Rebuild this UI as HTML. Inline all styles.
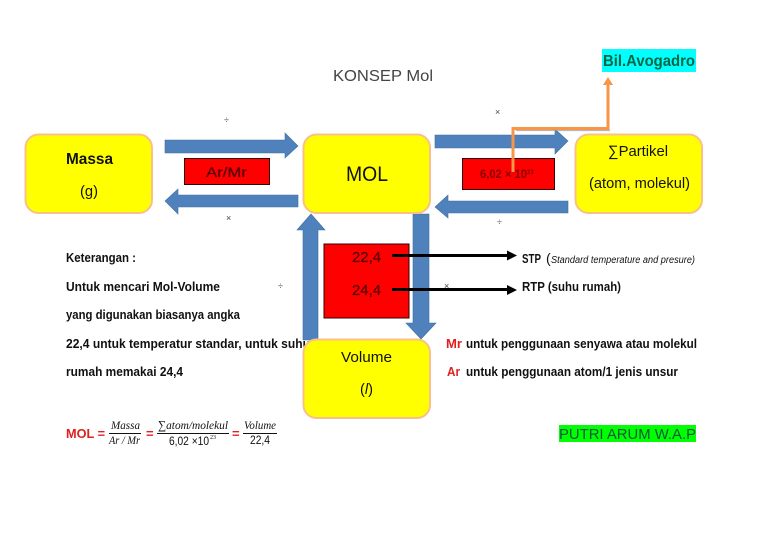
<!DOCTYPE html>
<html><head><meta charset="utf-8"><style>
html,body{margin:0;padding:0;background:#fff}
svg{display:block;filter:blur(.3px)}
text{font-family:"Liberation Sans",sans-serif;fill:#111}
.b{font-weight:bold;font-size:13px}
.s{font-size:9px;fill:#444}
.f{font-family:"Liberation Serif",serif;font-style:italic;font-size:12px}
.n{font-family:"Liberation Sans",sans-serif;font-style:normal;font-size:12px}
.r{fill:#500;stroke:#500;stroke-width:.25px}
</style></head><body>
<svg width="768" height="543" viewBox="0 0 768 543" xmlns="http://www.w3.org/2000/svg">
<rect width="768" height="543" fill="#fff"/>
<text x="333" y="81" font-size="16" textLength="100" lengthAdjust="spacingAndGlyphs" style="fill:#444">KONSEP Mol</text>

<rect x="602" y="49" width="94" height="23" fill="#00ffff"/>
<text x="603" y="66" font-size="16" font-weight="bold" textLength="92" lengthAdjust="spacingAndGlyphs" style="fill:#064">Bil.Avogadro</text>

<text x="66" y="262" class="b" textLength="70" lengthAdjust="spacingAndGlyphs">Keterangan :</text>
<text x="66" y="291" class="b" textLength="154" lengthAdjust="spacingAndGlyphs">Untuk mencari Mol-Volume</text>
<text x="66" y="319" class="b" textLength="174" lengthAdjust="spacingAndGlyphs">yang digunakan biasanya angka</text>
<text x="66" y="348" class="b" textLength="244" lengthAdjust="spacingAndGlyphs">22,4 untuk temperatur standar, untuk suhu</text>
<text x="66" y="376" class="b" textLength="117" lengthAdjust="spacingAndGlyphs">rumah memakai 24,4</text>

<g fill="#4f81bd" stroke="#41719c" stroke-width="0.6">
<polygon points="165,140 285,140 285,133 298,146 285,158 285,153 165,153"/>
<polygon points="298,195 178,195 178,189 165,201 178,214 178,207 298,207"/>
<polygon points="435,135 555,135 555,129 568,141 555,154 555,148 435,148"/>
<polygon points="568,201 448,201 448,195 435,207 448,218 448,213 568,213"/>
<polygon points="303,340 303,230 297,230 311,214 325,230 318,230 318,340"/>
<polygon points="413,214 429,214 429,323 436,323 421,339 406,323 413,323"/>
</g>

<g fill="#ffff00" stroke="#f9c08a" stroke-width="2">
<rect x="25.500" y="134.500" width="126.500" height="78.500" rx="13"/>
<rect x="303.500" y="134.500" width="126.500" height="78.500" rx="13"/>
<rect x="575.500" y="134.500" width="126.500" height="78.500" rx="13"/>
<rect x="303.500" y="339.500" width="126.500" height="78.500" rx="13"/>
</g>

<g fill="#ff0000" stroke="#300" stroke-width="1">
<rect x="184.500" y="158.500" width="85" height="26"/>
<rect x="462.500" y="158.500" width="92" height="31"/>
<rect x="324" y="244" width="85" height="74"/>
</g>

<text x="66" y="164" font-size="15.500" font-weight="bold" textLength="47" lengthAdjust="spacingAndGlyphs">Massa</text>
<text x="80" y="196" font-size="15" textLength="18" lengthAdjust="spacingAndGlyphs">(g)</text>
<text x="346" y="181" font-size="21" textLength="42" lengthAdjust="spacingAndGlyphs">MOL</text>
<text x="608" y="156" font-size="15" textLength="60" lengthAdjust="spacingAndGlyphs">∑Partikel</text>
<text x="589" y="188" font-size="14.500" textLength="101" lengthAdjust="spacingAndGlyphs">(atom, molekul)</text>
<text x="341" y="362" font-size="15" textLength="51" lengthAdjust="spacingAndGlyphs">Volume</text>
<text x="360" y="394" font-size="15" textLength="13" lengthAdjust="spacingAndGlyphs">(<tspan font-style="italic">l</tspan>)</text>

<text x="206" y="177" font-size="14" class="r" textLength="41" lengthAdjust="spacingAndGlyphs">Ar/Mr</text>
<text x="480" y="178" font-size="12" font-weight="bold" textLength="47" lengthAdjust="spacingAndGlyphs" style="fill:#800">6,02 × 10</text>
<text x="527" y="174" font-size="6" font-weight="bold" style="fill:#800">23</text>
<text x="352" y="262" font-size="15" class="r" textLength="29" lengthAdjust="spacingAndGlyphs">22,4</text>
<text x="352" y="295" font-size="15" class="r" textLength="29" lengthAdjust="spacingAndGlyphs">24,4</text>

<g fill="#000" stroke="none">
<rect x="392" y="254" width="116" height="3"/>
<polygon points="507,250.500 517,255.500 507,260.500"/>
<rect x="392" y="288" width="116" height="3"/>
<polygon points="507,285 517,290 507,295"/>
</g>

<path d="M516 130.500H610" fill="none" stroke="#999" stroke-width="1.200" opacity=".7"/>
<path d="M513 172V128.500H608V82" fill="none" stroke="#f79646" stroke-width="3"/>
<polygon points="603,85 608,77 613,85" fill="#f79646"/>

<text x="224" y="123" class="s">÷</text>
<text x="226" y="221" class="s">×</text>
<text x="495" y="115" class="s">×</text>
<text x="497" y="225" class="s">÷</text>
<text x="278" y="289" class="s">÷</text>
<text x="444" y="289" class="s">×</text>

<text x="522" y="263" class="b" textLength="19" lengthAdjust="spacingAndGlyphs">STP</text>
<text x="546" y="263" font-size="14">(</text>
<text x="551" y="263" font-size="10" font-style="italic" textLength="144" lengthAdjust="spacingAndGlyphs">Standard temperature and presure)</text>
<text x="522" y="291" class="b" textLength="99" lengthAdjust="spacingAndGlyphs">RTP (suhu rumah)</text>

<text x="446" y="348" class="b" textLength="16" lengthAdjust="spacingAndGlyphs" style="fill:#e02020">Mr</text>
<text x="466" y="348" class="b" textLength="231" lengthAdjust="spacingAndGlyphs">untuk penggunaan senyawa atau molekul</text>
<text x="447" y="376" class="b" textLength="13" lengthAdjust="spacingAndGlyphs" style="fill:#e02020">Ar</text>
<text x="466" y="376" class="b" textLength="212" lengthAdjust="spacingAndGlyphs">untuk penggunaan atom/1 jenis unsur</text>

<rect x="559" y="425" width="137" height="17" fill="#00ff00"/>
<text x="559" y="439" font-size="15" textLength="137" lengthAdjust="spacingAndGlyphs" style="fill:#154">PUTRI ARUM W.A.P</text>

<text x="66" y="438" font-size="13" font-weight="bold" textLength="39" lengthAdjust="spacingAndGlyphs" style="fill:#e02020">MOL =</text>
<text x="111" y="429" class="f" textLength="29" lengthAdjust="spacingAndGlyphs">Massa</text>
<rect x="109" y="433" width="32" height="1" fill="#111"/>
<text x="109" y="444" class="f" textLength="31" lengthAdjust="spacingAndGlyphs">Ar / Mr</text>
<text x="146" y="438" font-size="13" font-weight="bold" style="fill:#e02020">=</text>
<text x="158" y="429" class="f" textLength="70" lengthAdjust="spacingAndGlyphs">∑atom/molekul</text>
<rect x="157" y="433" width="72" height="1" fill="#111"/>
<text x="169" y="445" class="n" textLength="40" lengthAdjust="spacingAndGlyphs">6,02 ×10</text>
<text x="210" y="439" font-size="6" style="font-family:'Liberation Serif',serif">23</text>
<text x="232" y="438" font-size="13" font-weight="bold" style="fill:#e02020">=</text>
<text x="244" y="429" class="f" textLength="32" lengthAdjust="spacingAndGlyphs">Volume</text>
<rect x="243" y="433" width="34" height="1" fill="#111"/>
<text x="250" y="444" class="n" textLength="20" lengthAdjust="spacingAndGlyphs">22,4</text>
</svg>
</body></html>
